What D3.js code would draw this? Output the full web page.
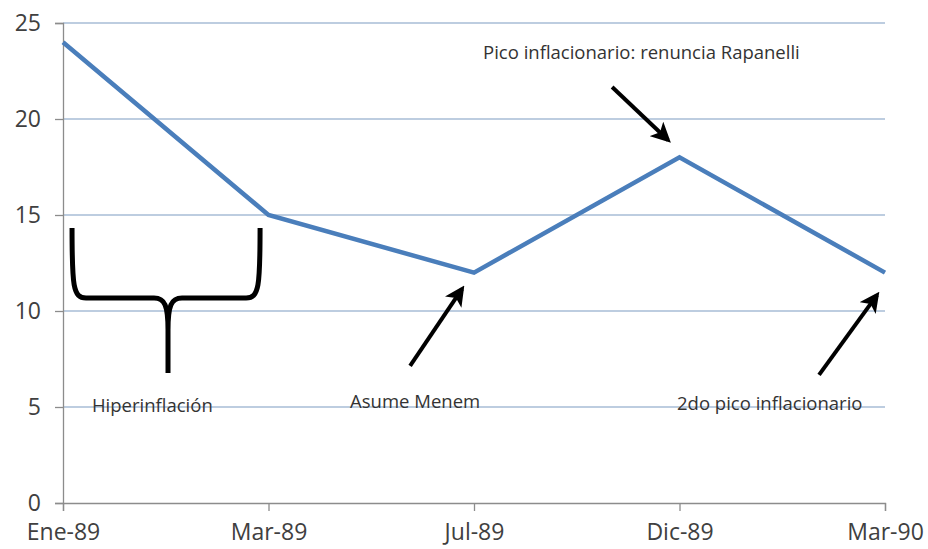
<!DOCTYPE html>
<html>
<head>
<meta charset="utf-8">
<script src="https://cdn.jsdelivr.net/npm/d3@7"></script>
<style>
  html, body { margin: 0; padding: 0; background: #ffffff; }
  svg { display: block; }
</style>
</head>
<body>
<div id="chart"></div>
<script>
// ---- data ----
const categories = ["Ene-89", "Mar-89", "Jul-89", "Dic-89", "Mar-90"];
const values = [24, 15, 12, 18, 12];
const yTicks = [0, 5, 10, 15, 20, 25];

// annotations (index position along x, value along y)
const annotationTexts = [
  { text: "Pico inflacionario: renuncia Rapanelli", i: 2.044, v: 23.12 },
  { text: "Asume Menem", i: 1.397, v: 4.95 },
  { text: "Hiperinflación", i: 0.141, v: 4.74 },
  { text: "2do pico inflacionario", i: 2.988, v: 4.84 }
];
const arrows = [
  { i0: 2.672, v0: 21.67, i1: 2.944, v1: 18.91 },
  { i0: 1.689, v0: 7.14, i1: 1.942, v1: 11.15 },
  { i0: 3.679, v0: 6.67, i1: 3.961, v1: 10.83 }
];

const W = 928, H = 549;
const margin = { left: 63, right: 43, top: 23, bottom: 46 };

const svg = d3.select("#chart").append("svg")
  .attr("width", W).attr("height", H)
  .style("font-family", "'Open Sans', 'Liberation Sans', sans-serif");

const x = d3.scalePoint().domain(categories).range([margin.left, W - margin.right]);
const xi = d3.scaleLinear().domain([0, categories.length - 1]).range([margin.left, W - margin.right]);
const y = d3.scaleLinear().domain([0, 25]).range([H - margin.bottom, margin.top]);

// grid lines
svg.append("g").selectAll("line").data(yTicks.filter(d => d > 0)).join("line")
  .attr("x1", margin.left).attr("x2", W - margin.right)
  .attr("y1", d => y(d)).attr("y2", d => y(d))
  .attr("stroke", "#a7bcd6").attr("stroke-width", 1.5);

// y axis
const yAxis = svg.append("g")
  .attr("transform", `translate(${margin.left},0)`)
  .call(d3.axisLeft(y).tickValues(yTicks).tickSize(8).tickPadding(14));
yAxis.select(".domain").attr("stroke", "#8c8c8c").attr("stroke-width", 1.3);
yAxis.selectAll(".tick line").attr("stroke", "#8c8c8c").attr("stroke-width", 1.3);
yAxis.selectAll(".tick text").attr("fill", "#404040").style("font-size", "23px")
  .style("font-family", "'Open Sans', sans-serif");

// x axis
const xAxis = svg.append("g")
  .attr("transform", `translate(0,${y(0)})`)
  .call(d3.axisBottom(x).tickSize(8).tickPadding(13));
xAxis.select(".domain").attr("stroke", "#8c8c8c").attr("stroke-width", 1.3);
xAxis.selectAll(".tick line").attr("stroke", "#8c8c8c").attr("stroke-width", 1.3);
xAxis.selectAll(".tick text").attr("fill", "#404040").style("font-size", "23px")
  .style("font-family", "'Open Sans', sans-serif");

// data line
const line = d3.line().x((d, i) => x(categories[i])).y(d => y(d));
svg.append("path").datum(values)
  .attr("d", line)
  .attr("fill", "none")
  .attr("stroke", "#4a7ebb")
  .attr("stroke-width", 4.5)
  .attr("stroke-linejoin", "miter");

// arrow marker
const defs = svg.append("defs");
defs.append("marker")
  .attr("id", "arrowhead")
  .attr("viewBox", "0 0 10 10")
  .attr("refX", 8).attr("refY", 5)
  .attr("markerWidth", 5).attr("markerHeight", 5)
  .attr("markerUnits", "strokeWidth")
  .attr("orient", "auto")
  .append("path")
  .attr("d", "M0,0 L10,5 L0,10 L2.5,5 Z")
  .attr("fill", "#000");

svg.append("g").selectAll("line").data(arrows).join("line")
  .attr("x1", d => xi(d.i0)).attr("y1", d => y(d.v0))
  .attr("x2", d => xi(d.i1)).attr("y2", d => y(d.v1))
  .attr("stroke", "#000").attr("stroke-width", 4)
  .attr("marker-end", "url(#arrowhead)");

// brace
const bx0 = xi(0.044), bx1 = xi(0.959), bxc = xi(0.511);
const by0 = y(14.32), byh = y(10.68), byb = y(6.77);
const bracePath = d3.path();
bracePath.moveTo(bx0, by0);
bracePath.bezierCurveTo(bx0, byh - 12, bx0 + 1, byh, bx0 + 14, byh);
bracePath.lineTo(bxc - 14, byh);
bracePath.bezierCurveTo(bxc - 3, byh, bxc, byh + 8, bxc, byh + 32);
bracePath.lineTo(bxc, byb);
bracePath.moveTo(bxc, byh + 32);
bracePath.bezierCurveTo(bxc, byh + 8, bxc + 3, byh, bxc + 14, byh);
bracePath.lineTo(bx1 - 14, byh);
bracePath.bezierCurveTo(bx1 - 1, byh, bx1, byh - 12, bx1, by0);
svg.append("path")
  .attr("d", bracePath.toString())
  .attr("fill", "none")
  .attr("stroke", "#000")
  .attr("stroke-width", 5)
  .attr("stroke-linejoin", "round");

// annotation texts
svg.append("g").selectAll("text").data(annotationTexts).join("text")
  .attr("x", d => xi(d.i)).attr("y", d => y(d.v))
  .attr("fill", "#333333")
  .style("font-size", "18.5px")
  .text(d => d.text);
</script>
</body>
</html>
